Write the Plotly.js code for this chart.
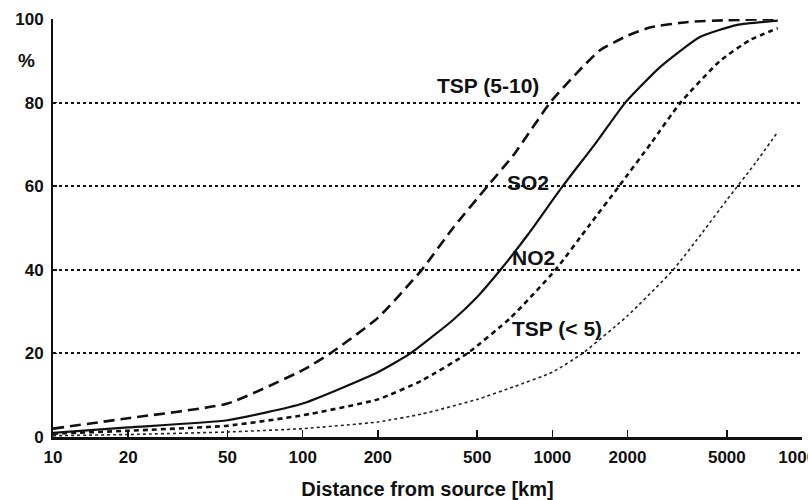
<!DOCTYPE html>
<html>
<head>
<meta charset="utf-8">
<script src="https://cdn.plot.ly/plotly-3.0.1.min.js"></script>
<style>html,body{margin:0;padding:0;background:#fff;}#chart{width:808px;height:500px;}</style>
</head>
<body>
<div id="chart"></div>
<script>
// Distance from source (km) and cumulative percentage for each species
const tsp510X = [10, 20, 50, 100, 129, 200, 300, 400, 550, 700, 980, 1250, 1550, 2000, 2470, 3500, 5000, 8000];
const tsp510Y = [2, 4.5, 8, 16, 20, 28.5, 40, 50, 60, 67.5, 80, 87, 92.5, 96, 98, 99.3, 99.7, 100];

const so2X = [10, 20, 50, 100, 200, 270, 400, 500, 620, 800, 1100, 1500, 1960, 2700, 3900, 5500, 8000];
const so2Y = [1, 2.3, 4, 8, 15.5, 20, 28, 33.5, 40, 48.5, 60, 70.5, 80, 88.5, 95.7, 98.6, 99.6];

const no2X = [10, 20, 50, 100, 200, 300, 456, 680, 1030, 1400, 1850, 2500, 3260, 4700, 6200, 8000];
const no2Y = [0.8, 1.5, 2.7, 5.2, 9, 13.5, 20, 28.5, 40, 50.5, 60, 70.5, 80, 90, 95, 97.8];

const tsp5X = [10, 20, 50, 100, 200, 300, 500, 700, 1000, 1320, 2000, 3050, 4000, 5000, 6500, 8000];
const tsp5Y = [0.3, 0.6, 1.2, 2, 3.6, 5.5, 9, 12, 15.5, 20, 29, 40, 49, 56.7, 65.5, 73];

const xTickVals = [10, 20, 50, 100, 200, 500, 1000, 2000, 5000, 10000];
const xTickText = ['10', '20', '50', '100', '200', '500', '1000', '2000', '5000', '10000'];
const yTickVals = [0, 20, 40, 60, 80, 100];

const labelText = ['TSP (5-10)', 'SO2', 'NO2', 'TSP (< 5)'];
const labelX = [550, 800, 840, 1040];
const labelY = [84, 61, 43, 26];

const FONT = '"Liberation Sans", Arial, Helvetica, sans-serif';

const traces = [
  {x: tsp510X, y: tsp510Y, mode: 'lines', line: {color: '#111', width: 2.6, dash: '11px,6px', shape: 'spline', smoothing: 0.5}},
  {x: so2X, y: so2Y, mode: 'lines', line: {color: '#111', width: 2.2, shape: 'spline', smoothing: 0.5}},
  {x: no2X, y: no2Y, mode: 'lines', line: {color: '#111', width: 2.6, dash: '5px,4px', shape: 'spline', smoothing: 0.5}},
  {x: tsp5X, y: tsp5Y, mode: 'lines', line: {color: '#222', width: 1.6, dash: 'dot', shape: 'spline', smoothing: 0.5}}
].map(t => Object.assign(t, {cliponaxis: false, hoverinfo: 'skip', showlegend: false}));

const annotations = labelText.map((t, i) => ({
  x: Math.log10(labelX[i]), y: labelY[i], xref: 'x', yref: 'y',
  text: t, showarrow: false, font: {family: FONT, size: 21, color: '#111', weight: 'bold'},
  xanchor: 'center', yanchor: 'middle'
}));

const pw = 808 - 53 - 6, ph = 500 - 19 - 63;
annotations.push({
  x: (26 - 53) / pw, y: (437 - 60) / ph, xref: 'paper', yref: 'paper', text: '%', showarrow: false,
  xanchor: 'center', yanchor: 'middle',
  font: {family: FONT, size: 19, color: '#111', weight: 'bold'}
});

const layout = {
  width: 808, height: 500,
  margin: {l: 53, r: 6, t: 19, b: 63},
  paper_bgcolor: '#fff', plot_bgcolor: '#fff',
  font: {family: FONT, color: '#111'},
  showlegend: false,
  xaxis: {
    type: 'log', range: [1, 4],
    tickvals: xTickVals, ticktext: xTickText,
    ticks: 'inside', ticklen: 7, tickwidth: 1.5, tickcolor: '#111',
    ticklabeloverflow: 'allow',
    showgrid: false, zeroline: false,
    showline: true, linecolor: '#111', linewidth: 3,
    tickfont: {family: FONT, size: 17, color: '#111', weight: 'bold'},
    ticklabelstandoff: 3,
    title: {text: 'Distance from source [km]', font: {family: FONT, size: 20, color: '#111', weight: 'bold'}, standoff: 18}
  },
  yaxis: {
    range: [0, 100],
    tickvals: yTickVals,
    ticks: 'inside', ticklen: 4, tickwidth: 1.5, tickcolor: '#111',
    showgrid: true, gridcolor: '#111', gridwidth: 2, griddash: 'dot',
    zeroline: false,
    showline: true, linecolor: '#111', linewidth: 2,
    tickfont: {family: FONT, size: 17, color: '#111', weight: 'bold'},
    ticklabelstandoff: 4
  },
  annotations: annotations
};

Plotly.newPlot('chart', traces, layout, {staticPlot: true, displayModeBar: false});
</script>
</body>
</html>
